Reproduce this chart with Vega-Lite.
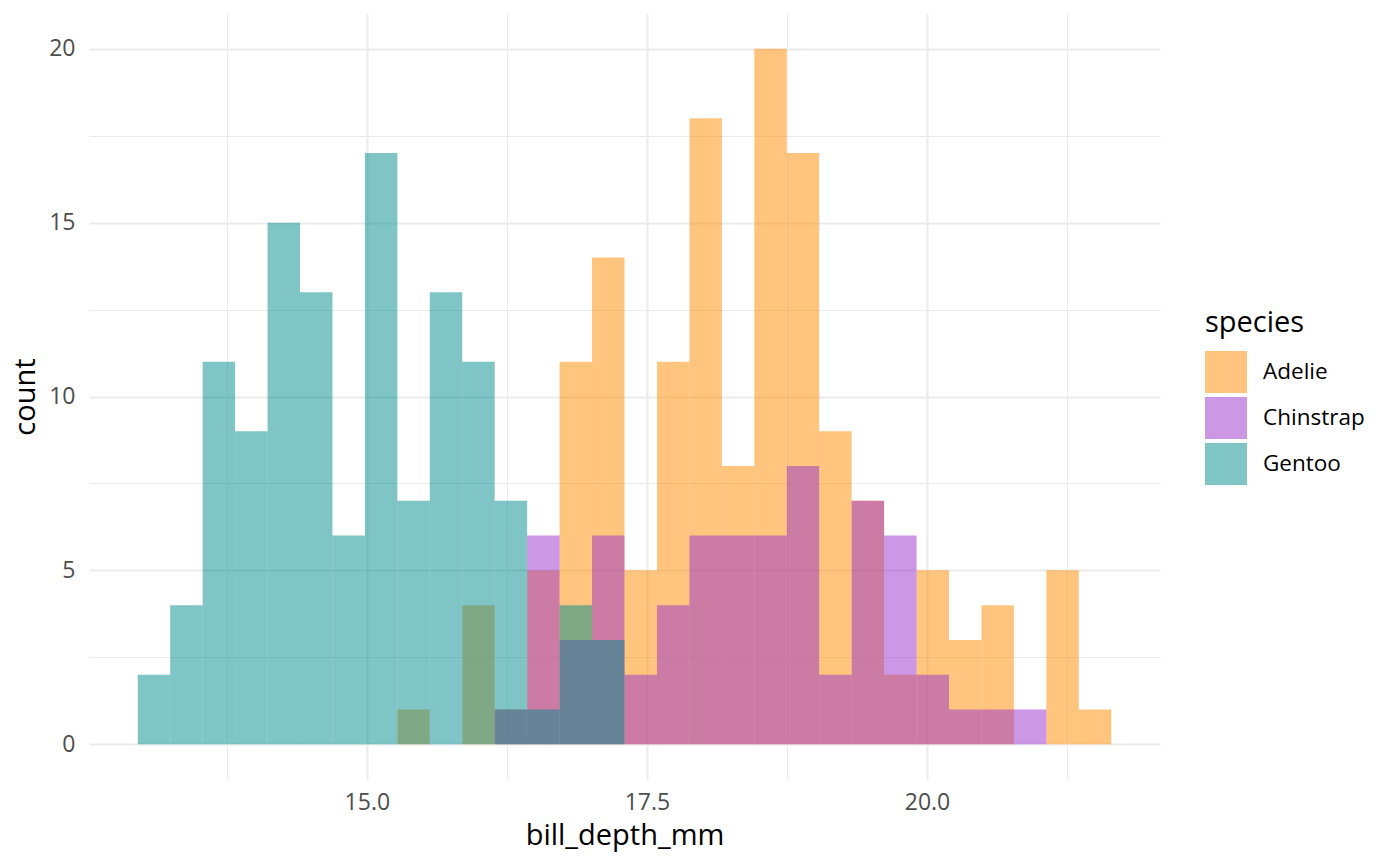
{
  "$schema": "https://vega.github.io/schema/vega-lite/v6.json",
  "autosize": {"type": "none"},
  "padding": {"left": 89, "top": 14, "right": 240, "bottom": 86},
  "width": 1071,
  "height": 765,
  "background": "white",
  "data": {
    "values": [
      {"species": "Adelie", "bin_start": 15.2724, "bin_end": 15.5621, "count": 1},
      {"species": "Adelie", "bin_start": 15.8517, "bin_end": 16.1414, "count": 4},
      {"species": "Adelie", "bin_start": 16.1414, "bin_end": 16.4310, "count": 1},
      {"species": "Adelie", "bin_start": 16.4310, "bin_end": 16.7207, "count": 5},
      {"species": "Adelie", "bin_start": 16.7207, "bin_end": 17.0103, "count": 11},
      {"species": "Adelie", "bin_start": 17.0103, "bin_end": 17.3000, "count": 14},
      {"species": "Adelie", "bin_start": 17.3000, "bin_end": 17.5897, "count": 5},
      {"species": "Adelie", "bin_start": 17.5897, "bin_end": 17.8793, "count": 11},
      {"species": "Adelie", "bin_start": 17.8793, "bin_end": 18.1690, "count": 18},
      {"species": "Adelie", "bin_start": 18.1690, "bin_end": 18.4586, "count": 8},
      {"species": "Adelie", "bin_start": 18.4586, "bin_end": 18.7483, "count": 20},
      {"species": "Adelie", "bin_start": 18.7483, "bin_end": 19.0379, "count": 17},
      {"species": "Adelie", "bin_start": 19.0379, "bin_end": 19.3276, "count": 9},
      {"species": "Adelie", "bin_start": 19.3276, "bin_end": 19.6172, "count": 7},
      {"species": "Adelie", "bin_start": 19.6172, "bin_end": 19.9069, "count": 2},
      {"species": "Adelie", "bin_start": 19.9069, "bin_end": 20.1966, "count": 5},
      {"species": "Adelie", "bin_start": 20.1966, "bin_end": 20.4862, "count": 3},
      {"species": "Adelie", "bin_start": 20.4862, "bin_end": 20.7759, "count": 4},
      {"species": "Adelie", "bin_start": 21.0655, "bin_end": 21.3552, "count": 5},
      {"species": "Adelie", "bin_start": 21.3552, "bin_end": 21.6448, "count": 1},
      {"species": "Chinstrap", "bin_start": 16.1414, "bin_end": 16.4310, "count": 1},
      {"species": "Chinstrap", "bin_start": 16.4310, "bin_end": 16.7207, "count": 6},
      {"species": "Chinstrap", "bin_start": 16.7207, "bin_end": 17.0103, "count": 3},
      {"species": "Chinstrap", "bin_start": 17.0103, "bin_end": 17.3000, "count": 6},
      {"species": "Chinstrap", "bin_start": 17.3000, "bin_end": 17.5897, "count": 2},
      {"species": "Chinstrap", "bin_start": 17.5897, "bin_end": 17.8793, "count": 4},
      {"species": "Chinstrap", "bin_start": 17.8793, "bin_end": 18.1690, "count": 6},
      {"species": "Chinstrap", "bin_start": 18.1690, "bin_end": 18.4586, "count": 6},
      {"species": "Chinstrap", "bin_start": 18.4586, "bin_end": 18.7483, "count": 6},
      {"species": "Chinstrap", "bin_start": 18.7483, "bin_end": 19.0379, "count": 8},
      {"species": "Chinstrap", "bin_start": 19.0379, "bin_end": 19.3276, "count": 2},
      {"species": "Chinstrap", "bin_start": 19.3276, "bin_end": 19.6172, "count": 7},
      {"species": "Chinstrap", "bin_start": 19.6172, "bin_end": 19.9069, "count": 6},
      {"species": "Chinstrap", "bin_start": 19.9069, "bin_end": 20.1966, "count": 2},
      {"species": "Chinstrap", "bin_start": 20.1966, "bin_end": 20.4862, "count": 1},
      {"species": "Chinstrap", "bin_start": 20.4862, "bin_end": 20.7759, "count": 1},
      {"species": "Chinstrap", "bin_start": 20.7759, "bin_end": 21.0655, "count": 1},
      {"species": "Gentoo", "bin_start": 12.9552, "bin_end": 13.2448, "count": 2},
      {"species": "Gentoo", "bin_start": 13.2448, "bin_end": 13.5345, "count": 4},
      {"species": "Gentoo", "bin_start": 13.5345, "bin_end": 13.8241, "count": 11},
      {"species": "Gentoo", "bin_start": 13.8241, "bin_end": 14.1138, "count": 9},
      {"species": "Gentoo", "bin_start": 14.1138, "bin_end": 14.4034, "count": 15},
      {"species": "Gentoo", "bin_start": 14.4034, "bin_end": 14.6931, "count": 13},
      {"species": "Gentoo", "bin_start": 14.6931, "bin_end": 14.9828, "count": 6},
      {"species": "Gentoo", "bin_start": 14.9828, "bin_end": 15.2724, "count": 17},
      {"species": "Gentoo", "bin_start": 15.2724, "bin_end": 15.5621, "count": 7},
      {"species": "Gentoo", "bin_start": 15.5621, "bin_end": 15.8517, "count": 13},
      {"species": "Gentoo", "bin_start": 15.8517, "bin_end": 16.1414, "count": 11},
      {"species": "Gentoo", "bin_start": 16.1414, "bin_end": 16.4310, "count": 7},
      {"species": "Gentoo", "bin_start": 16.4310, "bin_end": 16.7207, "count": 1},
      {"species": "Gentoo", "bin_start": 16.7207, "bin_end": 17.0103, "count": 4},
      {"species": "Gentoo", "bin_start": 17.0103, "bin_end": 17.3000, "count": 3}
    ]
  },
  "layer": [
    {
      "mark": {"type": "bar", "opacity": 0},
      "encoding": {
        "x": {
          "field": "bin_start",
          "type": "quantitative",
          "scale": {"domain": [12.52, 22.08], "nice": false, "zero": false},
          "axis": {
            "orient": "bottom",
            "values": [13.75, 16.25, 18.75, 21.25],
            "grid": true,
            "gridColor": "#EBEBEB",
            "gridWidth": 1,
            "labels": false,
            "ticks": false,
            "domain": false,
            "title": null
          }
        },
        "x2": {"field": "bin_end"},
        "y": {
          "field": "count",
          "type": "quantitative",
          "scale": {"domain": [-1, 21], "nice": false, "zero": false},
          "axis": {
            "orient": "left",
            "values": [2.5, 7.5, 12.5, 17.5],
            "grid": true,
            "gridColor": "#EBEBEB",
            "gridWidth": 1,
            "labels": false,
            "ticks": false,
            "domain": false,
            "title": null
          }
        },
        "y2": {"datum": 0}
      }
    },
    {
      "mark": {"type": "bar", "opacity": 0.5},
      "encoding": {
        "x": {
          "field": "bin_start",
          "type": "quantitative",
          "scale": {"domain": [12.52, 22.08], "nice": false, "zero": false},
          "axis": {
            "orient": "bottom",
            "values": [15, 17.5, 20],
            "format": ".1f",
            "grid": true,
            "gridColor": "#EBEBEB",
            "gridWidth": 2,
            "ticks": false,
            "domain": false,
            "labelFontSize": 23,
            "labelColor": "#4D4D4D",
            "labelPadding": 12,
            "title": "bill_depth_mm",
            "titleFontSize": 29,
            "titleFontWeight": "normal",
            "titleColor": "black",
            "titlePadding": 7
          }
        },
        "x2": {"field": "bin_end"},
        "y": {
          "field": "count",
          "type": "quantitative",
          "scale": {"domain": [-1, 21], "nice": false, "zero": false},
          "axis": {
            "orient": "left",
            "values": [0, 5, 10, 15, 20],
            "grid": true,
            "gridColor": "#EBEBEB",
            "gridWidth": 2,
            "ticks": false,
            "domain": false,
            "labelFontSize": 23,
            "labelColor": "#4D4D4D",
            "labelPadding": 14,
            "title": "count",
            "titleFontSize": 29,
            "titleFontWeight": "normal",
            "titleColor": "black",
            "titlePadding": 8
          }
        },
        "y2": {"datum": 0},
        "color": {
          "field": "species",
          "type": "nominal",
          "scale": {
            "domain": ["Adelie", "Chinstrap", "Gentoo"],
            "range": ["#FF8C00", "#9932CC", "#008B8B"]
          },
          "legend": {
            "orient": "none",
            "legendX": 1116,
            "legendY": 295,
            "title": "species",
            "titleFontSize": 29,
            "titleFontWeight": "normal",
            "titleColor": "black",
            "titlePadding": 13,
            "labelFontSize": 22.5,
            "labelColor": "black",
            "labelOffset": 16,
            "symbolType": "square",
            "symbolSize": 1764,
            "symbolOpacity": 0.5,
            "symbolStrokeWidth": 0,
            "rowPadding": 4
          }
        }
      }
    }
  ],
  "resolve": {"axis": {"x": "independent", "y": "independent"}},
  "config": {
    "font": "Open Sans",
    "view": {"stroke": null},
    "bar": {"binSpacing": 0}
  }
}
